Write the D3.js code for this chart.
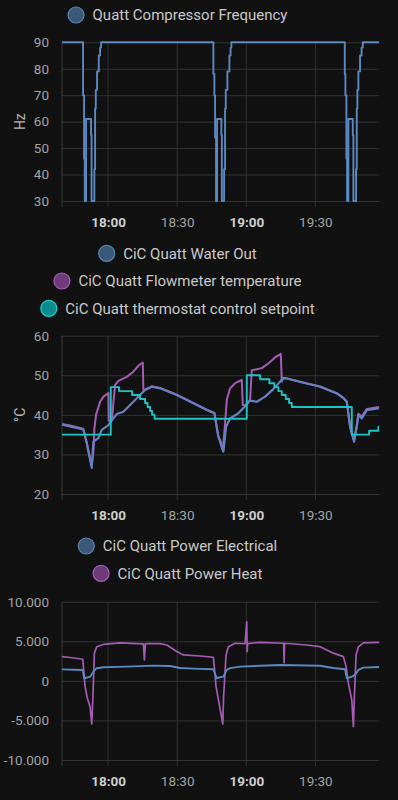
<!DOCTYPE html>
<html>
<head>
<meta charset="utf-8">
<script src="https://cdn.jsdelivr.net/npm/d3@7"></script>
<style>
  html, body { margin: 0; padding: 0; background: #111111; }
  svg { display: block; font-family: Roboto, "Noto Sans", sans-serif; }
</style>
</head>
<body>
<div id="chart"></div>
<script>
// time window shown on every chart
const xDomain = ["17:40:00", "19:57:45"];
const xTicks = ["18:00:00", "18:30:00", "19:00:00", "19:30:00"];

// --- chart 1: compressor frequency (Hz)
const freqTicks = [30, 40, 50, 60, 70, 80, 90];
const compressorFreq = [
  ["17:40:00", 90], ["17:49:09", 70], ["17:49:35", 46], ["17:49:53", 30],
  ["17:50:27", 61], ["17:52:37", 55], ["17:52:50", 30], ["17:54:03", 42],
  ["17:54:22", 65], ["17:54:40", 72], ["17:55:13", 79], ["17:55:58", 85],
  ["17:56:32", 88], ["17:56:58", 90],
  ["18:45:43", 78], ["18:46:09", 70], ["18:46:27", 54], ["18:46:53", 30],
  ["18:47:19", 61], ["18:49:11", 55], ["18:49:24", 30], ["18:50:22", 42],
  ["18:50:48", 65], ["18:51:06", 72], ["18:51:48", 79], ["18:52:40", 85],
  ["18:53:11", 88], ["18:53:32", 90],
  ["19:42:46", 78], ["19:43:02", 70], ["19:43:28", 46], ["19:43:46", 30],
  ["19:44:20", 61], ["19:46:14", 55], ["19:46:30", 30], ["19:47:40", 42],
  ["19:47:58", 65], ["19:48:14", 72], ["19:48:40", 79], ["19:49:24", 85],
  ["19:50:03", 88], ["19:50:35", 90], ["19:57:45", 90]
];

// --- chart 2: temperatures (°C)
const tempTicks = [20, 30, 40, 50, 60];
const waterOut = [
  ["17:40:00", 37.5], ["17:43:30", 37.1], ["17:49:17", 36.3], ["17:50:45", 32.8],
  ["17:51:27", 30.7], ["17:52:55", 26.6], ["17:53:37", 33.2], ["17:55:47", 34.1],
  ["17:57:16", 36.2], ["18:00:08", 37.4], ["18:02:18", 39.1], ["18:03:47", 40.2],
  ["18:06:38", 40.8], ["18:09:33", 42.5], ["18:12:28", 44.2], ["18:16:04", 46.3],
  ["18:18:58", 47.1], ["18:22:35", 46.7], ["18:29:50", 45.0], ["18:37:02", 42.9],
  ["18:42:51", 41.2], ["18:46:09", 40.4], ["18:47:53", 34.5], ["18:48:38", 33.6],
  ["18:50:04", 30.7], ["18:51:14", 37.0], ["18:52:58", 39.1], ["18:56:34", 40.4],
  ["18:59:29", 42.2], ["19:01:39", 43.6], ["19:04:34", 43.3], ["19:08:10", 44.6],
  ["19:11:46", 46.5], ["19:16:07", 49.3], ["19:17:35", 49.2], ["19:24:47", 48.1],
  ["19:32:02", 47.1], ["19:39:17", 45.4], ["19:42:10", 44.2], ["19:43:38", 43.3],
  ["19:45:04", 37.0], ["19:46:48", 33.2], ["19:47:59", 37.0], ["19:48:40", 40.0],
  ["19:50:09", 39.1], ["19:52:19", 41.2], ["19:57:45", 41.7]
];
const flowmeterTemp = [
  ["17:40:00", 37.7], ["17:43:30", 37.3], ["17:49:09", 36.5], ["17:50:45", 33.0],
  ["17:52:37", 28.0], ["17:52:55", 27.5], ["17:53:42", 31.0], ["17:54:03", 36.5],
  ["17:54:47", 40.0], ["17:56:32", 43.3], ["17:57:58", 44.6], ["18:00:08", 45.5],
  ["18:00:18", 38.7], ["18:00:52", 38.3], ["18:01:44", 39.0], ["18:02:18", 43.0],
  ["18:03:02", 47.5], ["18:04:28", 48.6], ["18:08:07", 49.6], ["18:10:59", 50.9],
  ["18:13:28", 52.6], ["18:15:04", 53.2], ["18:15:20", 46.3], ["18:16:04", 46.4],
  ["18:18:58", 47.2], ["18:22:35", 46.8], ["18:29:50", 45.1], ["18:37:02", 43.0],
  ["18:42:51", 41.3], ["18:46:09", 40.5], ["18:47:53", 34.5], ["18:49:48", 31.0],
  ["18:50:48", 37.9], ["18:51:32", 43.8], ["18:52:58", 46.7], ["18:55:08", 48.0],
  ["18:58:03", 48.8], ["18:58:29", 42.5], ["18:59:29", 42.4], ["19:01:39", 43.7],
  ["19:02:23", 51.3], ["19:04:34", 51.5], ["19:06:44", 51.8], ["19:09:36", 53.0],
  ["19:12:30", 54.5], ["19:14:59", 55.4], ["19:15:25", 48.4], ["19:16:07", 49.4],
  ["19:24:47", 48.2], ["19:32:02", 47.2], ["19:39:17", 45.5], ["19:42:10", 44.3],
  ["19:43:38", 43.4], ["19:45:04", 37.0], ["19:46:48", 33.5], ["19:47:59", 37.5],
  ["19:48:40", 40.3], ["19:50:09", 39.6], ["19:52:19", 41.5], ["19:57:45", 42.0]
];
const thermostatSetpoint = [
  ["17:40:00", 35], ["18:01:10", 47], ["18:04:47", 46], ["18:10:25", 45],
  ["18:13:53", 44], ["18:16:04", 43], ["18:17:09", 42], ["18:18:14", 41],
  ["18:19:06", 40], ["18:20:11", 39], ["19:00:13", 50], ["19:06:00", 49],
  ["19:10:02", 48], ["19:12:12", 47], ["19:13:56", 46], ["19:15:25", 45],
  ["19:17:09", 44], ["19:18:35", 43], ["19:19:45", 42], ["19:45:48", 35],
  ["19:53:19", 36], ["19:57:21", 37], ["19:57:45", 37]
];

// --- chart 3: power (W)
const powerTicks = [-10000, -5000, 0, 5000, 10000];
const powerElectrical = [
  ["17:40:00", 1450], ["17:49:01", 1380], ["17:49:35", 330], ["17:51:01", 420],
  ["17:52:11", 530], ["17:53:37", 1160], ["17:55:05", 1600], ["17:57:58", 1720],
  ["18:08:07", 1800], ["18:19:40", 1920], ["18:26:55", 1880], ["18:31:16", 1620],
  ["18:37:02", 1550], ["18:45:43", 1470], ["18:47:11", 330], ["18:48:38", 450],
  ["18:50:04", 530], ["18:51:32", 1380], ["18:52:58", 1600], ["18:57:19", 1800],
  ["19:14:41", 2000], ["19:32:02", 1900], ["19:37:49", 1620], ["19:42:54", 1470],
  ["19:43:38", 330], ["19:45:48", 530], ["19:47:14", 750], ["19:48:40", 1380],
  ["19:50:50", 1670], ["19:57:45", 1750]
];
const powerHeat = [
  ["17:40:00", 3060], ["17:43:30", 2950], ["17:49:01", 2730], ["17:50:01", -730],
  ["17:51:01", -2200], ["17:52:11", -3260], ["17:52:55", -5450], ["17:53:22", -2500],
  ["17:54:03", 3500], ["17:55:05", 4300], ["17:57:58", 4600], ["18:05:13", 4800],
  ["18:15:20", 4670], ["18:15:46", 2650], ["18:16:12", 4700], ["18:22:35", 4700],
  ["18:25:29", 4530], ["18:29:50", 3700], ["18:32:41", 3270], ["18:39:57", 3140],
  ["18:45:43", 2980], ["18:46:53", -730], ["18:48:11", -2800], ["18:49:48", -5450],
  ["18:50:09", -2000], ["18:51:14", 3270], ["18:52:14", 4300], ["18:55:08", 4750],
  ["18:59:29", 4700], ["19:00:13", 7450], ["19:00:23", 3700], ["19:00:33", 4700],
  ["19:06:00", 4870], ["19:16:12", 4750], ["19:16:25", 2300], ["19:16:38", 4750],
  ["19:26:16", 4530], ["19:32:02", 4320], ["19:37:49", 3500], ["19:42:10", 3060],
  ["19:43:20", 1800], ["19:44:20", -300], ["19:45:48", -2400], ["19:46:30", -5780],
  ["19:46:56", -2000], ["19:47:40", 3270], ["19:48:40", 4300], ["19:50:50", 4800],
  ["19:57:45", 4850]
];

const width = 398;
const height = 800;
const plotLeft = 62;
const plotRight = 379.3;
const legendCenter = 177.5;

const parseTime = d3.timeParse("%H:%M:%S");
const toPoints = (rows) => rows.map(([t, v]) => ({ t: parseTime(t), v: v }));

const nlFormat = d3.formatLocale({
  decimal: ",", thousands: ".", grouping: [3], currency: ["", "€"], minus: "-"
}).format(",d");

const blue = { line: "#5b89c0", fill: "#3b5878", stroke: "#5a86b2" };
const blueTemp = { line: "#6781c0", fill: "#3b5878", stroke: "#5a86b2" };
const purple = { line: "#a45cb4", fill: "#6c3b78", stroke: "#a65fb5" };
const cyan = { line: "#1cc4c6", fill: "#0d8a8c", stroke: "#22d0d2" };

const charts = [
  {
    top: 42.3, bottom: 201, yDomain: [30, 90], yTicks: freqTicks, yTitle: "Hz",
    format: d3.format("d"),
    legend: [{ y: 15, name: "Quatt Compressor Frequency", color: blue }],
    series: [{ data: compressorFreq, color: blue, width: 1.9, step: true }]
  },
  {
    top: 335.7, bottom: 494, yDomain: [20, 60], yTicks: tempTicks, yTitle: "°C",
    format: d3.format("d"),
    legend: [
      { y: 253.3, name: "CiC Quatt Water Out", color: blue },
      { y: 281, name: "CiC Quatt Flowmeter temperature", color: purple },
      { y: 308.3, name: "CiC Quatt thermostat control setpoint", color: cyan }
    ],
    series: [
      { data: flowmeterTemp, color: purple, width: 2, step: false },
      { data: waterOut, color: blueTemp, width: 2.2, step: false },
      { data: thermostatSetpoint, color: cyan, width: 1.9, step: true }
    ]
  },
  {
    top: 601.7, bottom: 760, yDomain: [-10000, 10000], yTicks: powerTicks, yTitle: null,
    format: nlFormat,
    legend: [
      { y: 546, name: "CiC Quatt Power Electrical", color: blue },
      { y: 573.3, name: "CiC Quatt Power Heat", color: purple }
    ],
    series: [
      { data: powerHeat, color: purple, width: 1.7, step: false },
      { data: powerElectrical, color: blue, width: 1.9, step: false }
    ]
  }
];

const svg = d3.select("#chart")
  .append("svg")
  .attr("width", width)
  .attr("height", height)
  .style("background", "#111111");

const x = d3.scaleTime()
  .domain(xDomain.map(parseTime))
  .range([plotLeft, plotRight]);

charts.forEach((cfg, i) => drawChart(cfg, i));

function drawChart(cfg, index) {
  const g = svg.append("g");
  const y = d3.scaleLinear().domain(cfg.yDomain).range([cfg.bottom, cfg.top]);

  // legend rows, each centred like the original
  cfg.legend.forEach((item) => {
    const row = g.append("g");
    row.append("circle")
      .attr("r", 8)
      .attr("fill", item.color.fill)
      .attr("stroke", item.color.stroke)
      .attr("stroke-width", 1.2);
    const label = row.append("text")
      .attr("x", 16.5)
      .attr("dy", "0.35em")
      .attr("fill", "#c9c9c9")
      .style("font-size", "15px")
      .text(item.name);
    const w = 8.5 + 16.5 + label.node().getComputedTextLength();
    const cx = legendCenter - w / 2 + 8.5;
    row.attr("transform", "translate(" + cx + "," + item.y + ")");
  });

  // horizontal grid + y labels
  const yAxis = g.append("g")
    .attr("transform", "translate(" + plotLeft + ",0)")
    .call(d3.axisLeft(y)
      .tickValues(cfg.yTicks)
      .tickSize(-(plotRight - plotLeft))
      .tickPadding(13)
      .tickFormat(cfg.format));
  yAxis.select(".domain").remove();
  yAxis.selectAll("line").attr("stroke", "#333333").attr("stroke-width", 1);
  yAxis.selectAll("text")
    .attr("fill", "#a3a3a3")
    .style("font-size", "13.5px")
    .style("font-family", "Roboto, sans-serif");

  // vertical grid at time ticks, slightly past the bottom edge
  g.append("g")
    .selectAll("line")
    .data(xTicks.map(parseTime))
    .join("line")
    .attr("x1", (d) => x(d))
    .attr("x2", (d) => x(d))
    .attr("y1", cfg.top)
    .attr("y2", cfg.bottom + 6)
    .attr("stroke", "#333333");

  g.append("line")
    .attr("x1", plotLeft).attr("x2", plotLeft)
    .attr("y1", cfg.top).attr("y2", cfg.bottom + 6)
    .attr("stroke", "#3a3a3a");

  // time labels, full hours in bold
  const xAxis = g.append("g")
    .attr("transform", "translate(0," + cfg.bottom + ")")
    .call(d3.axisBottom(x)
      .tickValues(xTicks.map(parseTime))
      .tickSize(0)
      .tickPadding(16.5)
      .tickFormat(d3.timeFormat("%H:%M")));
  xAxis.select(".domain").remove();
  xAxis.selectAll("text")
    .style("font-size", "13.5px")
    .style("font-family", "Roboto, sans-serif")
    .attr("fill", (d) => (d.getMinutes() === 0 ? "#cfcfcf" : "#a3a3a3"))
    .style("font-weight", (d) => (d.getMinutes() === 0 ? "bold" : "normal"));

  if (cfg.yTitle) {
    g.append("text")
      .attr("transform", "translate(20," + (cfg.top + cfg.bottom) / 2 + ") rotate(-90)")
      .attr("text-anchor", "middle")
      .attr("dy", "0.35em")
      .attr("fill", "#b5b5b5")
      .style("font-size", "14px")
      .text(cfg.yTitle);
  }

  // series lines
  const clipId = "clip" + index;
  g.append("clipPath").attr("id", clipId)
    .append("rect")
    .attr("x", plotLeft)
    .attr("y", cfg.top - 3)
    .attr("width", plotRight - plotLeft)
    .attr("height", cfg.bottom - cfg.top + 6);

  cfg.series.forEach((s) => {
    const line = d3.line()
      .x((d) => x(d.t))
      .y((d) => y(d.v))
      .curve(s.step ? d3.curveStepAfter : d3.curveLinear);
    g.append("path")
      .datum(toPoints(s.data))
      .attr("clip-path", "url(#" + clipId + ")")
      .attr("fill", "none")
      .attr("stroke", s.color.line)
      .attr("stroke-width", s.width)
      .attr("stroke-linejoin", "round")
      .attr("d", line);
  });
}
</script>
</body>
</html>
